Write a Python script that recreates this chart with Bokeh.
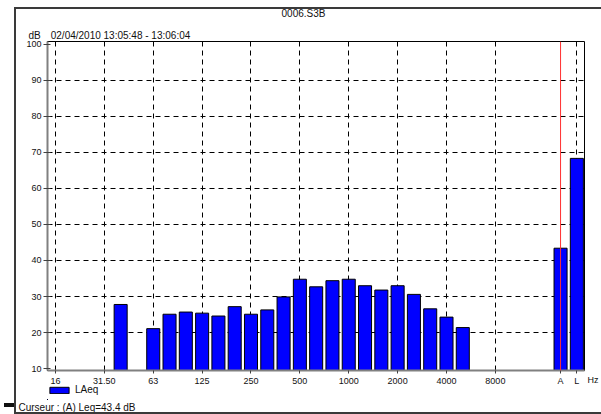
import math
from bokeh.plotting import figure
from bokeh.layouts import column
from bokeh.models import (Range1d, FixedTicker, Span, Legend, LegendItem, Title,
                          ColumnDataSource, InlineStyleSheet, Label)
from bokeh.embed import file_html
from bokeh.resources import INLINE

# ---- data ----
bands = ["16", "20", "25", "31.5", "40", "50", "63", "80", "100", "125", "160",
         "200", "250", "315", "400", "500", "630", "800", "1000", "1250", "1600",
         "2000", "2500", "3150", "4000", "5000", "6300", "8000", "10000", "12500",
         "16000", "A", "L"]
nan = float("nan")
laeq = [nan, nan, nan, nan, 27.8, nan, 21.1, 25.1, 25.7, 25.4, 24.6,
        27.2, 25.1, 26.3, 29.9, 34.8, 32.7, 34.4, 34.8, 33.0, 31.8,
        33.0, 30.6, 26.6, 24.3, 21.4, nan, nan, nan, nan,
        nan, 43.4, 68.3]
tick_bands = ["16", "31.5", "63", "125", "250", "500", "1000", "2000", "4000",
              "8000", "A", "L"]
tick_labels = ["16", "31.50", "63", "125", "250", "500", "1000", "2000", "4000",
               "8000", "A", "L"]
unit_label = "Hz"
grid_bands = ["16", "31.5", "63", "125", "250", "500", "1000", "2000", "4000",
              "8000", "L"]
y_ticks = [10, 20, 30, 40, 50, 60, 70, 80, 90, 100]
file_name = "0006.S3B"
period = "02/04/2010 13:05:48 - 13:06:04"
series_name = "LAeq"
cursor_band = "A"
cursor_value = 43.4

pos = {b: i for i, b in enumerate(bands)}
keep = [i for i, v in enumerate(laeq) if not math.isnan(v)]
src = ColumnDataSource(dict(x=keep, top=[laeq[i] for i in keep]))

FONT = "Liberation Sans"
TXT = dict(text_font=FONT, text_font_size="10px", text_color="#111111")
BAR_STYLE = dict(fill_color="#0000FF", line_color="black", line_width=1)

# ---- header strip: file name ----
p0 = figure(width=601, height=22, output_backend="svg", toolbar_location=None,
            x_range=Range1d(0, 1), y_range=Range1d(0, 1),
            x_axis_type=None, y_axis_type=None,
            min_border_left=47, min_border_right=0, min_border_top=0,
            min_border_bottom=0)
p0.outline_line_color = None
p0.background_fill_alpha = 0
p0.border_fill_alpha = 0
p0.add_layout(Label(text=file_name, x=256, y=9, x_units="screen",
                    y_units="screen", text_align="center",
                    text_baseline="alphabetic", **TXT))

# ---- main chart ----
p = figure(width=601, height=366, output_backend="svg", toolbar_location=None,
           title=None,
           x_range=Range1d(-0.49, 32.47), y_range=Range1d(9.5, 100.7),
           min_border_left=47, min_border_right=17, min_border_top=19,
           min_border_bottom=16)
p.background_fill_color = "white"
p.border_fill_color = "white"
p.outline_line_color = "black"
p.outline_line_width = 1

p.xgrid.ticker = FixedTicker(ticks=[pos[b] for b in grid_bands])
p.ygrid.ticker = FixedTicker(ticks=y_ticks[1:-1])
for g in (p.xgrid, p.ygrid):
    g.grid_line_color = "black"
    g.grid_line_dash = "5 4"
    g.grid_line_width = 1

p.xaxis.ticker = FixedTicker(ticks=[pos[b] for b in tick_bands])
p.xaxis.major_label_overrides = {pos[b]: l for b, l in zip(tick_bands, tick_labels)}
p.yaxis.ticker = FixedTicker(ticks=y_ticks)
for ax in (p.xaxis, p.yaxis):
    ax.axis_line_color = "#808080"
    ax.axis_line_width = 2
    ax.major_tick_line_color = "#404040"
    ax.minor_tick_line_color = None
    ax.major_label_text_font = FONT
    ax.major_label_text_font_size = "9px"
    ax.major_label_text_color = "#111111"
p.yaxis.major_tick_in = 3
p.yaxis.major_tick_out = 4
p.yaxis.major_label_standoff = 2
p.xaxis.major_tick_in = 0
p.xaxis.major_tick_out = 3
p.xaxis.major_label_standoff = 2

bars = p.vbar(x="x", top="top", bottom=0, width=0.8, source=src, **BAR_STYLE)
p.add_layout(Span(location=pos[cursor_band], dimension="height",
                  line_color="#FF3030", line_width=1))

t_period = Title(text="dB\u2002\u2002" + period, align="left", offset=-19,
                 standoff=1, text_font_style="normal", **TXT)
p.add_layout(t_period, "above")

# ---- footer strip: unit, legend and cursor readout ----
p2 = figure(width=601, height=42, output_backend="svg", toolbar_location=None,
            x_range=Range1d(1000, 1601), y_range=Range1d(1000, 1026),
            x_axis_type=None, y_axis_type=None,
            min_border_left=47, min_border_right=0, min_border_top=12,
            min_border_bottom=15)
p2.margin = (-16, 0, 0, 0)
p2.outline_line_color = None
p2.background_fill_alpha = 0
p2.border_fill_alpha = 0
bars2 = p2.vbar(x="x", top="top", bottom=0, width=0.8, source=src, **BAR_STYLE)

p2.add_layout(Title(text=unit_label, align="left", offset=540, standoff=0,
                    text_font_style="normal", text_font=FONT,
                    text_font_size="9px", text_color="#111111"), "above")
legend = Legend(items=[LegendItem(label=series_name, renderers=[bars2])],
                location="top_left", orientation="horizontal",
                padding=0, margin=0, spacing=0,
                glyph_width=24, glyph_height=8, label_height=8,
                label_standoff=4, label_text_font=FONT,
                label_text_font_size="10px", label_text_color="#111111",
                border_line_color=None, background_fill_alpha=0)
p2.add_layout(legend, "center")
t_cursor = Title(text="Curseur : (" + cursor_band + ") Leq=" + str(cursor_value) + " dB",
                 align="left", offset=-29, standoff=0, text_font_style="normal",
                 **TXT)
p2.add_layout(t_cursor, "below")

layout = column(p0, p, p2, spacing=0)
layout.stylesheets = [InlineStyleSheet(css="""
:host { position: relative; }
:host::after { content: ""; position: absolute; left: 14px; top: 7px;
  width: 587px; height: 407px; box-sizing: border-box; z-index: 10;
  border: 2px solid #3a3a3a; border-right: none; pointer-events: none; }
:host::before { content: ""; position: absolute; left: 4px; top: 403px;
  width: 11px; height: 4px; background: #111; pointer-events: none; z-index: 10; }
""")]

open("out.html", "w").write(file_html(layout, INLINE))
